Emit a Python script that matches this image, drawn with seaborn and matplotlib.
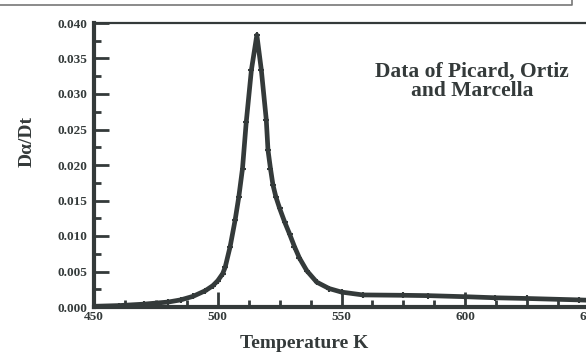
import numpy as np
import pandas as pd
import matplotlib
matplotlib.use('Agg')
import matplotlib.pyplot as plt
import seaborn as sns
from matplotlib.ticker import MultipleLocator, FormatStrFormatter
from matplotlib.lines import Line2D

# valores
temperatura = [450, 460, 470, 480, 485, 490, 495, 498, 500, 502, 503, 505, 507, 508.5,
               510, 511.5, 513.6, 515.8, 517.6, 519.6, 520.3, 521.3, 522.3, 523.5, 525,
               527, 529, 531, 533, 536, 540, 545, 550, 558.6, 575, 585, 600, 612,
               625, 646, 650]
taxa = [0.0001, 0.0002, 0.0004, 0.0007, 0.0010, 0.0015, 0.0023, 0.0030, 0.0037,
        0.0047, 0.0056, 0.0085, 0.0122, 0.0155, 0.0195, 0.0260, 0.0334, 0.0383,
        0.0334, 0.0264, 0.0221, 0.0195, 0.0172, 0.0155, 0.0139, 0.0120, 0.0103,
        0.0085, 0.0069, 0.0051, 0.0035, 0.0026, 0.0021, 0.0017, 0.00165, 0.0016,
        0.00145, 0.0013, 0.0012, 0.0010, 0.00095]
x_ticks = [450, 500, 550, 600, 650]
y_ticks = [0.000, 0.005, 0.010, 0.015, 0.020, 0.025, 0.030, 0.035, 0.040]

df = pd.DataFrame({'T': temperatura, 'dadt': taxa})

cor = '#343a3a'
sns.set_style('white')
plt.rcParams['font.family'] = ['Liberation Serif', 'DejaVu Serif']

fig = plt.figure(figsize=(5.86, 3.52), dpi=100)
ax = fig.add_axes([94/586, 45/352, 495/586, 284/352])

sns.lineplot(data=df, x='T', y='dadt', ax=ax, color=cor, linewidth=3.4,
             marker='+', markersize=5, markeredgewidth=1.5,
             markeredgecolor=cor, markerfacecolor=cor)

ax.set_xlim(450, 650)
ax.set_ylim(0, 0.040)
ax.set_xticks(x_ticks)
ax.set_yticks(y_ticks)
ax.xaxis.set_minor_locator(MultipleLocator(12.5))
ax.yaxis.set_minor_locator(MultipleLocator(0.0025))
ax.yaxis.set_major_formatter(FormatStrFormatter('%.3f'))
ax.tick_params(which='both', bottom=True, left=True, top=False, right=False)
ax.tick_params(which='major', direction='in', length=11, width=2, color=cor,
               labelsize=9.5, labelcolor=cor, pad=5)
ax.tick_params(which='minor', direction='in', length=5, width=2, color=cor)
ax.tick_params(axis='x', pad=3)
for lab in ax.get_xticklabels() + ax.get_yticklabels():
    lab.set_fontweight('bold')

for lado in ['left', 'bottom']:
    ax.spines[lado].set_linewidth(3)
    ax.spines[lado].set_color(cor)
ax.spines['top'].set_linewidth(1.6)
ax.spines['top'].set_color(cor)
ax.spines['right'].set_visible(False)

ax.set_xlabel('')
ax.set_ylabel('')
fig.text(27/586, 1 - 141/352, 'D\u03b1/Dt', rotation=90, ha='center', va='center',
         fontsize=14, fontweight='bold', color=cor)
fig.text(304/586, 1 - 344/352, 'Temperature K', ha='center', va='center',
         fontsize=14, fontweight='bold', color=cor)
ax.text(0.764, 0.796, 'Data of Picard, Ortiz\nand Marcella', transform=ax.transAxes,
        ha='center', va='center', fontsize=15.5, fontweight='bold', color=cor,
        linespacing=0.95)

# resto da moldura digitalizada no topo
fig.add_artist(Line2D([0, 572/586, 572/586], [1 - 5/352, 1 - 5/352, 1.0],
                      color='#777777', linewidth=1.2))

fig.savefig('out.png', dpi=100)
